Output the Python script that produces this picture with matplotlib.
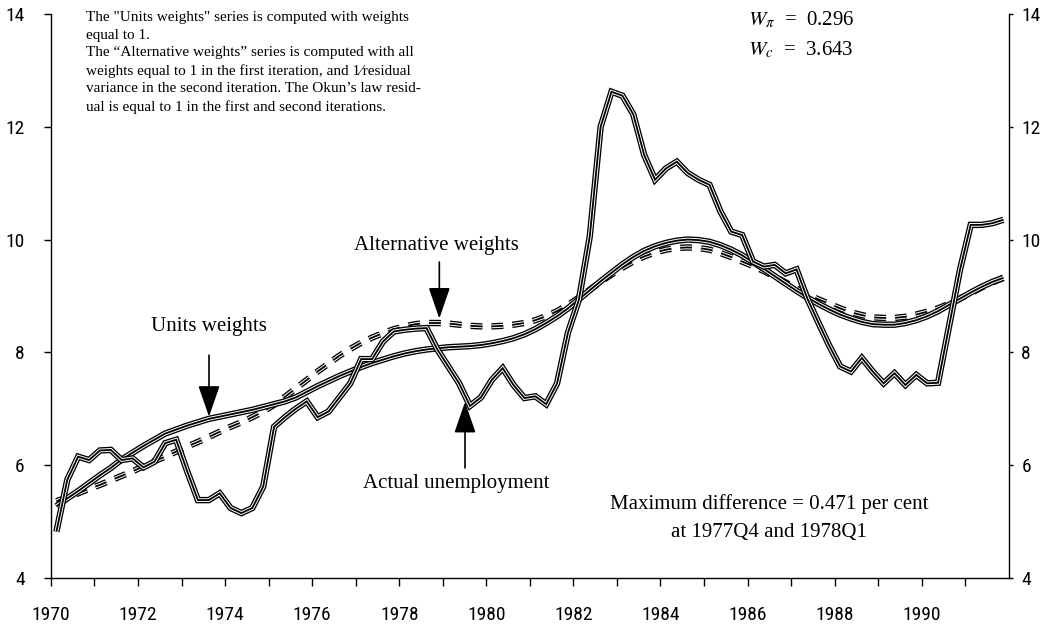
import numpy as np
import matplotlib.pyplot as plt

plt.rcParams['font.family'] = ['Liberation Serif', 'DejaVu Serif']
plt.rcParams['mathtext.fontset'] = 'stix'
plt.rcParams['lines.scale_dashes'] = False

# quarterly data, 1970Q1 .. 1991Q4 (plotted at mid-quarter)
first_year = 1970
n_quarters = 88

actual = [4.82, 5.74, 6.15, 6.09, 6.26, 6.27, 6.09, 6.12, 5.96, 6.06, 6.39, 6.45,
          5.90, 5.38, 5.38, 5.50, 5.24, 5.15, 5.24, 5.62, 6.68, 6.85, 7.00, 7.13,
          6.85, 6.95, 7.20, 7.45, 7.88, 7.88, 8.19, 8.37, 8.40, 8.42, 8.43, 8.05,
          7.75, 7.45, 7.05, 7.20, 7.51, 7.72, 7.42, 7.19, 7.22, 7.08, 7.45, 8.35,
          8.93, 10.05, 12.00, 12.62, 12.55, 12.22, 11.50, 11.06, 11.26, 11.38, 11.18, 11.06,
          10.97, 10.50, 10.14, 10.08, 9.61, 9.52, 9.55, 9.40, 9.47, 8.95, 8.53, 8.12,
          7.75, 7.66, 7.90, 7.66, 7.45, 7.63, 7.42, 7.60, 7.45, 7.46, 8.45, 9.45,
          10.26, 10.26, 10.29, 10.35]

units_weights = [5.27, 5.41, 5.54, 5.68, 5.82, 5.95, 6.10, 6.22, 6.34, 6.45, 6.56, 6.63,
                 6.70, 6.76, 6.82, 6.86, 6.90, 6.94, 6.98, 7.03, 7.08, 7.13, 7.20, 7.30,
                 7.40, 7.49, 7.58, 7.66, 7.74, 7.81, 7.87, 7.93, 7.98, 8.02, 8.05, 8.07,
                 8.09, 8.10, 8.11, 8.13, 8.16, 8.20, 8.25, 8.32, 8.41, 8.52, 8.64, 8.78,
                 8.94, 9.10, 9.26, 9.41, 9.56, 9.69, 9.80, 9.88, 9.94, 9.98, 10.00, 9.99,
                 9.96, 9.90, 9.82, 9.72, 9.60, 9.48, 9.35, 9.22, 9.09, 8.97, 8.86, 8.76,
                 8.67, 8.60, 8.54, 8.50, 8.49, 8.49, 8.52, 8.57, 8.64, 8.73, 8.84, 8.95,
                 9.06, 9.16, 9.25, 9.32]

alt_weights = [5.36, 5.43, 5.50, 5.58, 5.65, 5.73, 5.81, 5.89, 5.98, 6.07, 6.15, 6.24,
               6.33, 6.41, 6.50, 6.59, 6.68, 6.76, 6.85, 6.95, 7.07, 7.21, 7.36, 7.51,
               7.66, 7.80, 7.94, 8.06, 8.17, 8.26, 8.34, 8.41, 8.46, 8.50, 8.52, 8.52,
               8.51, 8.49, 8.47, 8.46, 8.46, 8.47, 8.49, 8.52, 8.57, 8.64, 8.73, 8.84,
               8.97, 9.11, 9.25, 9.38, 9.50, 9.61, 9.70, 9.77, 9.82, 9.85, 9.86, 9.85,
               9.82, 9.76, 9.69, 9.61, 9.53, 9.44, 9.34, 9.24, 9.13, 9.03, 8.94, 8.86,
               8.78, 8.71, 8.66, 8.62, 8.61, 8.61, 8.63, 8.67, 8.72, 8.78, 8.86, 8.95,
               9.05, 9.15, 9.24, 9.32]

year_ticks = list(range(1970, 1992))
year_labels = [str(y) if y % 2 == 0 else '' for y in year_ticks]
y_ticks = [4, 6, 8, 10, 12, 14]

note = ('The "Units weights" series is computed with weights\n'
        'equal to 1.\n'
        'The \u201cAlternative weights\u201d series is computed with all\n'
        'weights equal to 1 in the first iteration, and 1\u2044residual\n'
        'variance in the second iteration. The Okun\u2019s law resid-\n'
        'ual is equal to 1 in the first and second iterations.')

t = first_year + (np.arange(n_quarters) + 0.5) / 4


def striped(ax, x, y, dashes=None):
    # black / white / black layers give the triple-stripe look
    for lw, c in [(4.6, 'black'), (2.7, 'white'), (1.3, 'black')]:
        kw = dict(color=c, lw=lw, solid_capstyle='butt', solid_joinstyle='miter')
        if dashes:
            kw['dashes'] = dashes
            kw['dash_capstyle'] = 'butt'
        ax.plot(x, y, **kw)


fig = plt.figure(figsize=(10.4, 6.33), dpi=100)
ax = fig.add_axes([0.049, 0.087, 0.921, 0.891])

striped(ax, t, alt_weights, dashes=(8.5, 6.5))
striped(ax, t, units_weights)
striped(ax, t, actual)

ax.set_xlim(1970, 1992)
ax.set_ylim(4, 14)
ax.spines['top'].set_visible(False)
ax.spines['right'].set_visible(False)
for s in ['left', 'bottom']:
    ax.spines[s].set_linewidth(1.0)

tick_font = dict(family=['Roboto Condensed', 'Liberation Sans Narrow', 'DejaVu Sans'],
                 stretch='condensed', fontsize=14)
ax.set_xticks(year_ticks)
ax.set_xticklabels(year_labels, **tick_font)
ax.set_yticks(y_ticks)
ax.set_yticklabels([str(v) for v in y_ticks], **tick_font)
ax.tick_params(axis='x', direction='out', length=6, width=1, pad=14)
ax.tick_params(axis='y', direction='out', length=5, width=1, pad=14)

right = ax.secondary_yaxis('right')
right.set_yticks(y_ticks)
right.set_yticklabels([str(v) for v in y_ticks], **tick_font)
right.tick_params(direction='out', length=3, width=1, pad=6)
right.spines['right'].set_linewidth(1.0)

arrow = dict(arrowstyle='-|>,head_length=1.3,head_width=0.45', color='black',
             lw=1.2, mutation_scale=15, shrinkA=0, shrinkB=0)

ax.text(1973.63, 8.45, 'Units weights', ha='center', va='center', fontsize=15)
ax.annotate('', xy=(1973.63, 6.86), xytext=(1973.63, 7.95), arrowprops=arrow)

ax.text(1978.86, 9.90, 'Alternative weights', ha='center', va='center', fontsize=15)
ax.annotate('', xy=(1978.92, 8.60), xytext=(1978.92, 9.60), arrowprops=arrow)

ax.text(1979.32, 5.67, 'Actual unemployment', ha='center', va='center', fontsize=15)
ax.annotate('', xy=(1979.51, 7.12), xytext=(1979.51, 5.95), arrowprops=arrow)

ax.text(1986.5, 5.06, 'Maximum difference = 0.471 per cent\nat 1977Q4 and 1978Q1',
        ha='center', va='center', fontsize=15, linespacing=1.7)

ax.text(1986.0, 13.9, r'$W_{\pi}$  =  0.296', ha='left', va='center', fontsize=15)
ax.text(1986.0, 13.37, r'$W_c$  =  3.643', ha='left', va='center', fontsize=15)

ax.text(1970.8, 14.05, note, ha='left', va='top', fontsize=11, linespacing=1.45)

fig.savefig('out.png', dpi=100)
